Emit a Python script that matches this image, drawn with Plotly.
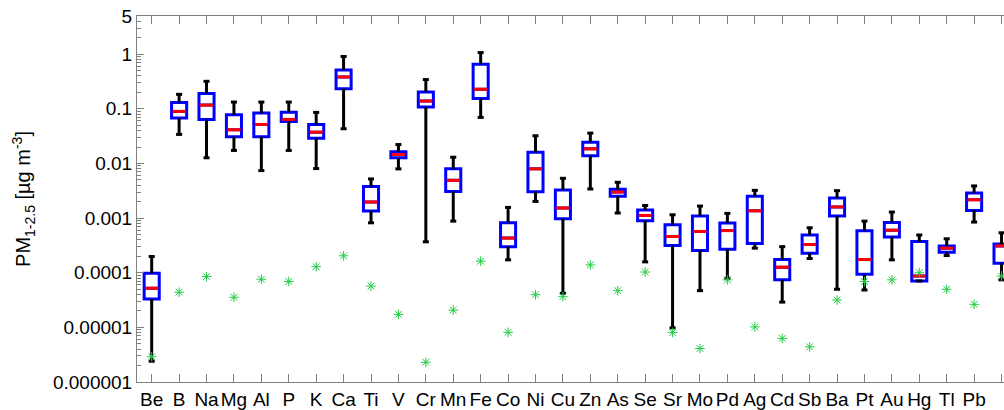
import plotly.graph_objects as go

elements = ["Be", "B", "Na", "Mg", "Al", "P", "K", "Ca", "Ti", "V", "Cr", "Mn", "Fe", "Co", "Ni", "Cu",
            "Zn", "As", "Se", "Sr", "Mo", "Pd", "Ag", "Cd", "Sb", "Ba", "Pt", "Au", "Hg", "Tl", "Pb", "U"]

whisker_low = [2.4e-6, 0.034, 0.0127, 0.0173, 0.0074, 0.0173, 0.00806, 0.0432, 8.2e-4, 0.00796, 3.68e-4, 8.8e-4,
               0.0697, 1.72e-4, 0.00202, 4.2e-5, 0.00341, 0.00124, 1.58e-4, 9.8e-6, 4.7e-5, 7.9e-5, 2.82e-4, 2.9e-5,
               1.82e-4, 4.98e-5, 4.83e-5, 1.72e-4, 7.07e-5, 2.06e-4, 8.46e-4, 7.4e-5]
q1 = [3.3e-5, 0.0676, 0.064, 0.0308, 0.0308, 0.0588, 0.029, 0.234, 0.00135, 0.0127, 0.1077, 0.00308,
      0.154, 3.0e-4, 0.00305, 9.7e-4, 0.0138, 0.0025, 8.9e-4, 3.15e-4, 2.55e-4, 2.7e-4, 3.42e-4, 7.4e-5,
      2.28e-4, 1.09e-3, 9.4e-5, 4.5e-4, 7.07e-5, 2.38e-4, 1.38e-3, 1.49e-4]
median = [5.2e-5, 0.0898, 0.117, 0.0414, 0.0518, 0.064, 0.0374, 0.383, 0.00197, 0.0146, 0.139, 0.00491,
          0.228, 4.3e-4, 0.00796, 0.00153, 0.0185, 0.00301, 0.00112, 4.6e-4, 5.7e-4, 5.9e-4, 1.36e-3, 1.26e-4,
          3.28e-4, 1.6e-3, 1.74e-4, 6.0e-4, 8.7e-5, 2.82e-4, 2.17e-3, 3.1e-4]
q3 = [9.8e-5, 0.130, 0.19, 0.078, 0.0836, 0.087, 0.0518, 0.515, 0.00377, 0.0163, 0.203, 0.00796,
      0.655, 8.2e-4, 0.0161, 0.00327, 0.0245, 0.00336, 0.0014, 7.55e-4, 1.09e-3, 8.1e-4, 2.5e-3, 1.74e-4,
      4.9e-4, 2.33e-3, 5.86e-4, 8.3e-4, 3.73e-4, 3.1e-4, 2.88e-3, 3.34e-4]
whisker_high = [1.98e-4, 0.184, 0.319, 0.133, 0.133, 0.133, 0.086, 0.907, 0.00521, 0.0222, 0.343, 0.013,
                1.07, 1.57e-3, 0.0321, 0.00535, 0.0359, 0.00452, 0.0017, 1.15e-3, 1.66e-3, 1.22e-3, 3.22e-3, 3.0e-4,
                6.65e-4, 3.18e-3, 8.8e-4, 1.29e-3, 4.9e-4, 4.18e-4, 3.88e-3, 5.38e-4]
detection_limit = [2.9e-6, 4.4e-5, 8.5e-5, 3.55e-5, 7.6e-5, 6.9e-5, 1.29e-4, 2.04e-4, 5.7e-5, 1.73e-5, 2.3e-6, 2.07e-5,
                   1.63e-4, 8.1e-6, 3.96e-5, 3.64e-5, 1.39e-4, 4.7e-5, 1.03e-4, 8.1e-6, 4.1e-6, 7.4e-5, 1.02e-5, 6.3e-6,
                   4.4e-6, 3.16e-5, 6.9e-5, 7.4e-5, 1.0e-4, 4.98e-5, 2.64e-5, 8.7e-5]

ytick_vals = [1e-6, 1e-5, 1e-4, 1e-3, 1e-2, 1e-1, 1, 5]
ytick_text = ["0.000001", "0.00001", "0.0001", "0.001", "0.01", "0.1", "1", "5"]

idx = list(range(len(elements)))
box_w = 0.55
cap_w = 0.11
med_w = 0.24

# whiskers (stems + caps)
wx, wy = [], []
for i in idx:
    wx += [i, i, None, i, i, None, i - cap_w, i + cap_w, None, i - cap_w, i + cap_w, None]
    wy += [whisker_low[i], q1[i], None, q3[i], whisker_high[i], None,
           whisker_low[i], whisker_low[i], None, whisker_high[i], whisker_high[i], None]

mx, my = [], []
for i in idx:
    mx += [i - med_w, i + med_w, None]
    my += [median[i], median[i], None]

minor_vals = []
for e in range(-6, 1):
    for k in range(2, 10):
        v = k * 10 ** e
        if v <= 5:
            minor_vals.append(v)

fig = go.Figure()
fig.add_trace(go.Scatter(x=wx, y=wy, mode="lines", line=dict(color="black", width=3),
                         hoverinfo="skip", showlegend=False))
fig.add_trace(go.Box(x=idx, q1=q1, median=median, q3=q3, lowerfence=q1, upperfence=q3,
                     width=box_w, fillcolor="white", line=dict(color="#0000ff", width=3),
                     whiskerwidth=0, showlegend=False, boxpoints=False))
fig.add_trace(go.Scatter(x=mx, y=my, mode="lines", line=dict(color="#ff0000", width=3),
                         hoverinfo="skip", showlegend=False))
fig.add_trace(go.Scatter(x=idx, y=detection_limit, mode="markers",
                         marker=dict(symbol="asterisk-open", size=8, color="#22cc44",
                                     line=dict(color="#22cc44", width=1)),
                         showlegend=False))

font = "Liberation Sans, Arial, sans-serif"
fig.update_layout(
    width=1004, height=410,
    margin=dict(l=137, r=0, t=16, b=28),
    paper_bgcolor="white", plot_bgcolor="white",
    font=dict(family=font, size=19, color="black"),
    xaxis=dict(range=[-0.536, 31.09], tickvals=idx, ticktext=elements, tickangle=0,
               ticks="inside", ticklen=8, tickcolor="#808080", tickwidth=1,
               showline=True, linecolor="#808080", linewidth=1, mirror="ticks",
               showgrid=False, zeroline=False, tickfont=dict(size=19)),
    yaxis=dict(type="log", range=[-6, 0.69897], tickvals=ytick_vals, ticktext=ytick_text,
               ticks="inside", ticklen=7, tickcolor="#808080", tickwidth=1,
               showline=True, linecolor="#808080", linewidth=1,
               showgrid=False, zeroline=False, tickfont=dict(size=19),
               minor=dict(tickvals=minor_vals, ticks="inside", ticklen=4, tickcolor="#808080", showgrid=False),
               title=dict(text="PM<sub>1-2.5</sub> [µg m<sup>-3</sup>]", font=dict(size=20), standoff=16)),
)

fig.write_html("out.html")
